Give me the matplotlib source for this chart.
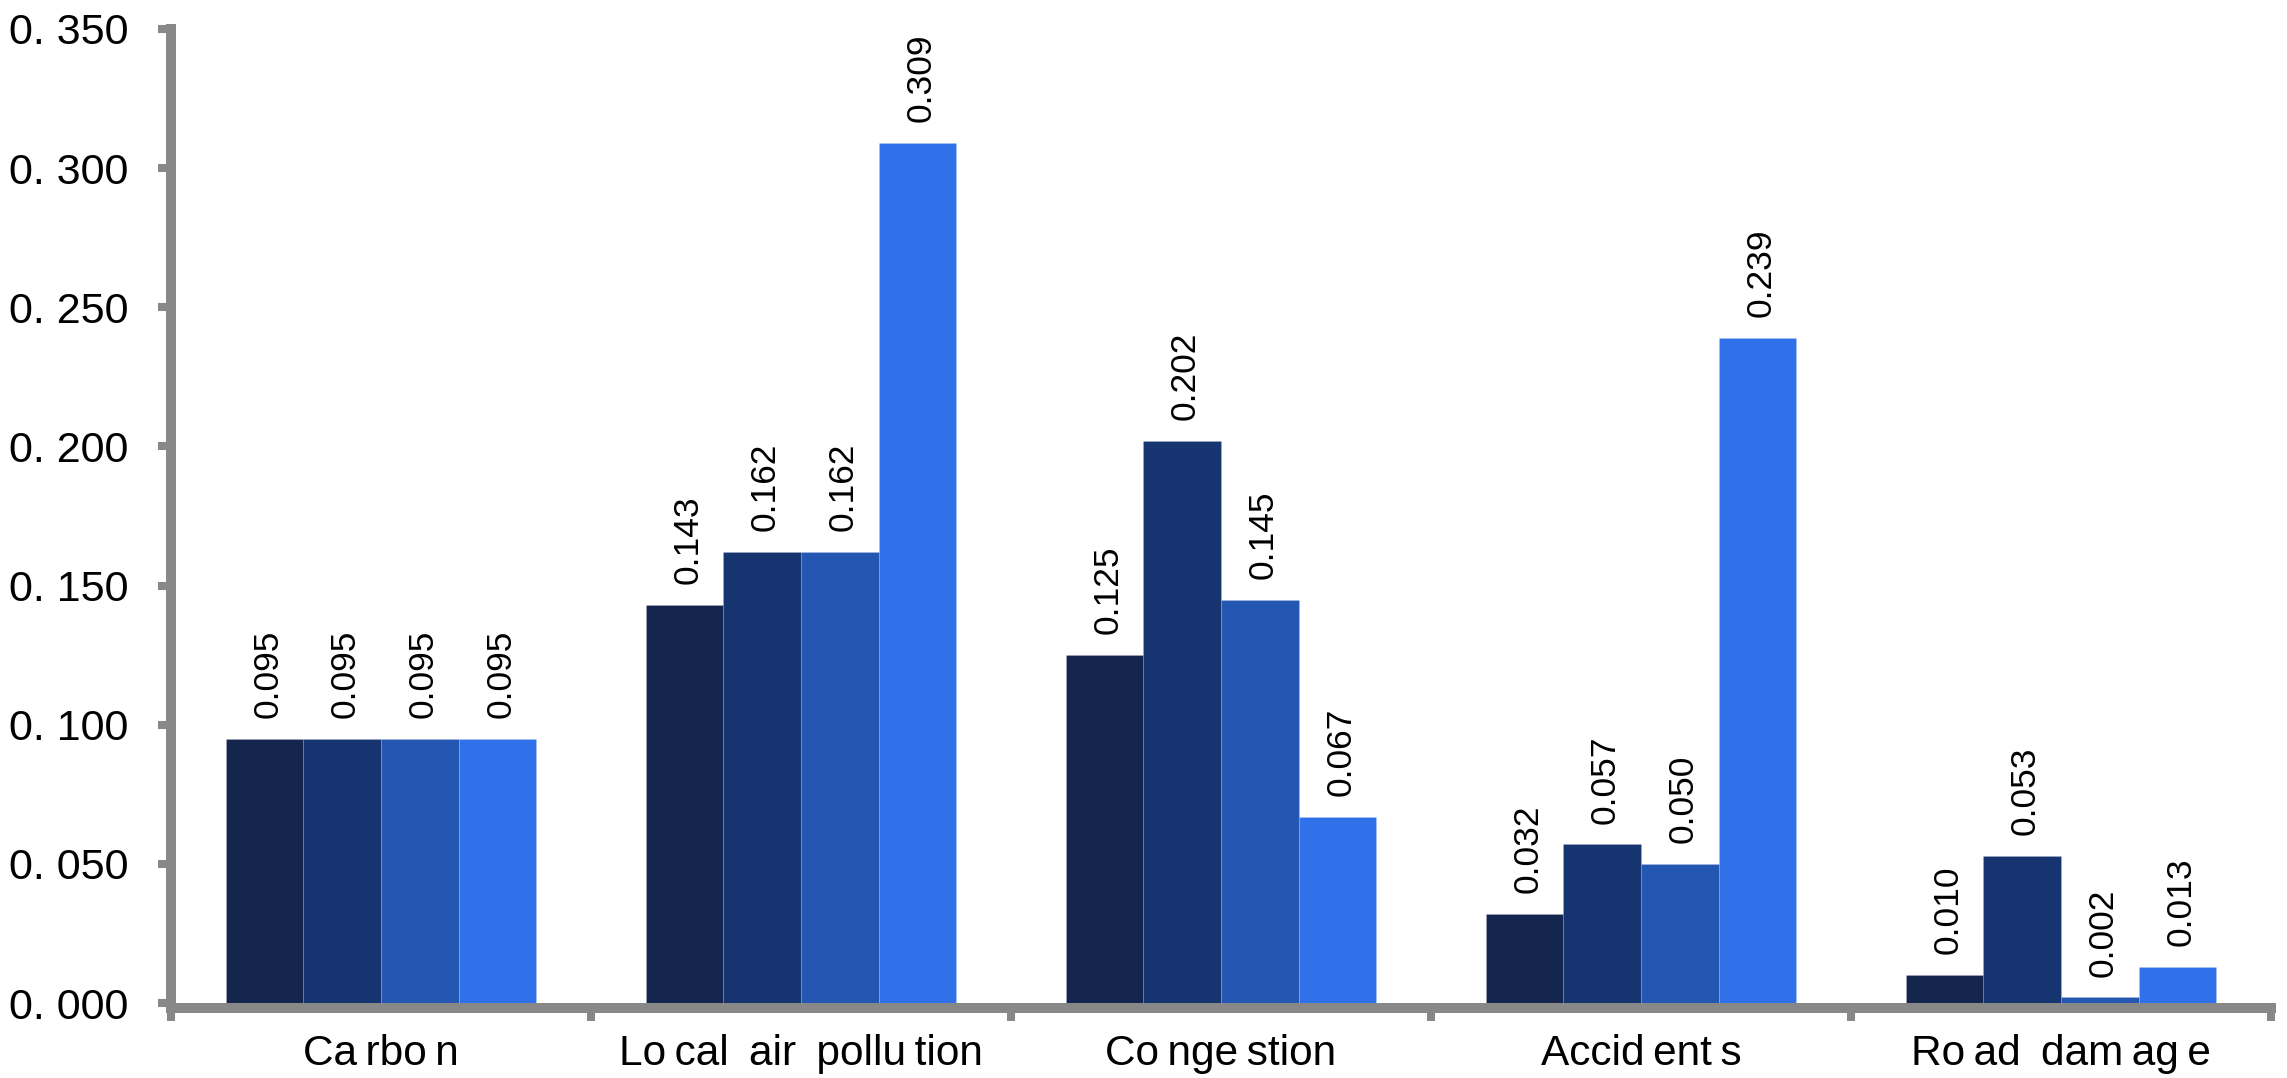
import numpy as np
import matplotlib
matplotlib.use('Agg')
import matplotlib.pyplot as plt
from matplotlib.ticker import FuncFormatter

plt.rcParams['font.family'] = ['Liberation Sans', 'DejaVu Sans']

# Категории и значения по четырём сериям
T = '\u2009'  # узкий пробел внутри подписей
categories = [f'Ca{T}rbo{T}n', f'Lo{T}cal {T}air {T}pollu{T}tion', f'Co{T}nge{T}stion',
              f'Accid{T}ent{T}s', f'Ro{T}ad {T}dam{T}ag{T}e']
series_1 = [0.095, 0.143, 0.125, 0.032, 0.010]
series_2 = [0.095, 0.162, 0.202, 0.057, 0.053]
series_3 = [0.095, 0.162, 0.145, 0.050, 0.002]
series_4 = [0.095, 0.309, 0.067, 0.239, 0.013]
yticks = [0.000, 0.050, 0.100, 0.150, 0.200, 0.250, 0.300, 0.350]

colors = ['#14264E', '#163470', '#2457B2', '#3070E9']
axis_gray = '#888888'

fig = plt.figure(figsize=(22.87, 10.78), dpi=100)
ax = fig.add_axes([0.0748, 0.0649, 0.9182, 0.9082])

x = np.arange(len(categories))
width = 0.185
all_series = [series_1, series_2, series_3, series_4]

for i, (vals, col) in enumerate(zip(all_series, colors)):
    offs = (i - 1.5) * width
    bars = ax.bar(x + offs, vals, width=width, color=col, edgecolor='#FFFFFF22',
                  linewidth=0.6, zorder=2)
    for bar, v in zip(bars, vals):
        ax.text(bar.get_x() + bar.get_width() / 2 + 0.008, v + 0.0075, f'{v:.3f}',
                rotation=90, ha='center', va='bottom', fontsize=25.5, color='black')

# ноль чуть выше центра нижней оси, чтобы столбики начинались от её верхнего края
ax.set_xlim(-0.5, len(categories) - 0.5)
ax.set_ylim(-0.0018, 0.35)

# Оси: толстые серые линии слева и снизу
for side in ['top', 'right']:
    ax.spines[side].set_visible(False)
for side in ['left', 'bottom']:
    ax.spines[side].set_color(axis_gray)
    ax.spines[side].set_linewidth(7.2)
    ax.spines[side].set_capstyle('projecting')
    ax.spines[side].set_zorder(3)

ax.set_yticks(yticks)
ax.yaxis.set_major_formatter(FuncFormatter(lambda v, p: f'{v:.3f}'.replace('.', '. ')))
ax.tick_params(axis='y', direction='out', length=9.5, width=5.8, color=axis_gray,
               labelsize=31, pad=21)

# Засечки на границах категорий, подписи по центрам
ax.set_xticks(np.arange(-0.5, len(categories), 1.0))
ax.set_xticklabels([])
ax.set_xticks(x, minor=True)
ax.set_xticklabels(categories, minor=True)
ax.tick_params(axis='x', which='major', direction='out', length=9, width=5.8, color=axis_gray)
ax.tick_params(axis='x', which='minor', length=0, labelsize=30.5, pad=19)

fig.savefig('out.png', dpi=100)
